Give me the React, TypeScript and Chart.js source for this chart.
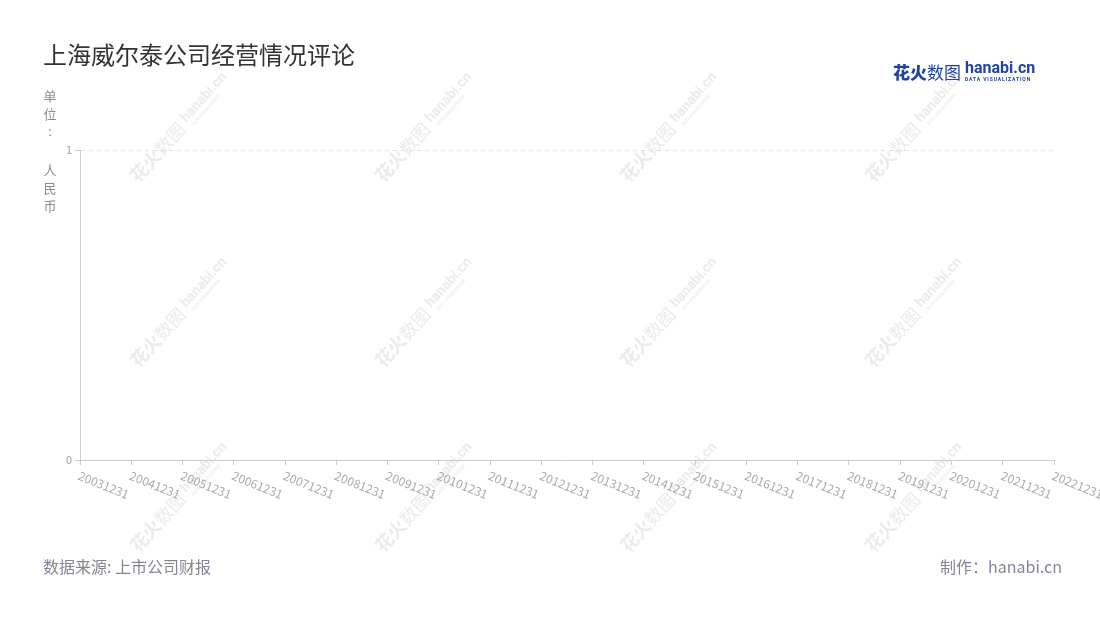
import React, { useEffect, useRef } from "react";
import { Chart, registerables } from "chart.js";

Chart.register(...registerables);

const title = "上海威尔泰公司经营情况评论";
const unitChars = ["单", "位", ":", "人", "民", "币"];
const categories = [
  "20031231", "20041231", "20051231", "20061231", "20071231",
  "20081231", "20091231", "20101231", "20111231", "20121231",
  "20131231", "20141231", "20151231", "20161231", "20171231",
  "20181231", "20191231", "20201231", "20211231", "20221231",
];
const seriesValues: (number | null)[] = [
  null, null, null, null, null, null, null, null, null, null,
  null, null, null, null, null, null, null, null, null, null,
];
const yTicks = [0, 1];
const sourceText = "数据来源: 上市公司财报";
const makerText = "制作：hanabi.cn";

const FONT = '"Noto Sans CJK SC", "Noto Sans", sans-serif';

const watermarkPlugin = {
  id: "watermark",
  beforeDraw(chart: any) {
    const ctx = chart.ctx as CanvasRenderingContext2D;
    const xs = [183, 428, 673, 918];
    const ys = [124, 309, 494];
    ctx.save();
    for (const cx of xs) {
      for (const cy of ys) {
        ctx.save();
        ctx.translate(cx, cy);
        ctx.rotate((-48 * Math.PI) / 180);
        ctx.fillStyle = "#ebebeb";
        ctx.textBaseline = "middle";
        ctx.textAlign = "left";
        ctx.font = `bold 18px ${FONT}`;
        ctx.fillText("花火", -74, 0);
        ctx.font = `18px ${FONT}`;
        ctx.fillText("数图", -38, 0);
        ctx.font = `bold 14px Roboto, ${FONT}`;
        ctx.fillText("hanabi.cn", 3, -2);
        ctx.font = `bold 4px Roboto, ${FONT}`;
        ctx.fillText("DATA VISUALIZATION", 6, 8);
        ctx.restore();
      }
    }
    ctx.restore();
  },
};

const xLabelPlugin = {
  id: "xlabels",
  afterDraw(chart: any) {
    const ctx = chart.ctx as CanvasRenderingContext2D;
    const sx = chart.scales.x;
    const labels = chart.data.labels as string[];
    const y = chart.chartArea.bottom + 15;
    ctx.save();
    ctx.fillStyle = "#ababab";
    ctx.font = `12px ${FONT}`;
    ctx.textAlign = "left";
    ctx.textBaseline = "middle";
    labels.forEach((lab, i) => {
      const x = sx.getPixelForValue(i);
      ctx.save();
      ctx.translate(x - 1, y);
      ctx.rotate((22 * Math.PI) / 180);
      ctx.fillText(lab, 0, 0);
      ctx.restore();
    });
    ctx.restore();
  },
};

function ChartView() {
  const ref = useRef<HTMLCanvasElement | null>(null);
  useEffect(() => {
    if (!ref.current) return;
    const chart = new Chart(ref.current, {
      type: "line",
      data: {
        labels: categories,
        datasets: [
          {
            label: "",
            data: seriesValues,
            borderColor: "#5470c6",
            backgroundColor: "#5470c6",
          },
        ],
      },
      options: {
        responsive: false,
        animation: false,
        devicePixelRatio: 1,
        layout: { padding: { left: 0, top: 150, right: 46, bottom: 100 } },
        plugins: {
          legend: { display: false },
          tooltip: { enabled: false },
        },
        scales: {
          x: {
            type: "category",
            offset: false,
            ticks: { display: false },
            grid: {
              drawOnChartArea: false,
              drawTicks: true,
              tickLength: 5,
              tickColor: "#cccccc",
              color: "#cccccc",
            },
            border: { display: true, color: "#cccccc", width: 1 },
            afterFit: (s: any) => {
              s.height = 60;
            },
          },
          y: {
            type: "linear",
            min: yTicks[0],
            max: yTicks[yTicks.length - 1],
            afterBuildTicks: (s: any) => {
              s.ticks = yTicks.map((v) => ({ value: v }));
            },
            ticks: {
              color: "#a0a0a0",
              font: { size: 11, family: FONT },
              padding: 3,
            },
            grid: {
              color: (c: any) => (c.tick && c.tick.value === 0 ? "rgba(0,0,0,0)" : "#e0e0e0"),
              tickColor: "#cccccc",
              tickLength: 5,
              tickBorderDash: [],
            },
            border: { display: true, color: "#cccccc", width: 1, dash: [4, 4] },
            afterFit: (s: any) => {
              s.width = 80;
            },
          },
        },
      },
      plugins: [watermarkPlugin, xLabelPlugin],
    } as any);
    return () => chart.destroy();
  }, []);
  return (
    <canvas
      ref={ref}
      width={1100}
      height={620}
      style={{ position: "absolute", left: 0, top: 0, width: 1100, height: 620 }}
    />
  );
}

export default function App() {
  const unitY = [96, 114, 131, 170, 188, 206];
  return (
    <div
      style={{
        position: "absolute",
        left: 0,
        top: 0,
        width: 1100,
        height: 620,
        background: "#ffffff",
        overflow: "hidden",
        fontFamily: FONT,
      }}
    >
      <ChartView />
      <div
        style={{
          position: "absolute",
          left: 43,
          top: 38,
          fontSize: 24,
          color: "#333333",
          lineHeight: "32px",
          whiteSpace: "nowrap",
        }}
      >
        {title}
      </div>
      {unitChars.map((c, i) => (
        <div
          key={i}
          style={{
            position: "absolute",
            left: 43,
            top: unitY[i] - 9,
            width: 14,
            textAlign: "center",
            fontSize: 13,
            lineHeight: "18px",
            color: "#8c8c8c",
          }}
        >
          {c}
        </div>
      ))}
      <div
        style={{
          position: "absolute",
          left: 893,
          top: 58,
          whiteSpace: "nowrap",
          color: "#1f43a3",
          display: "flex",
          alignItems: "center",
        }}
      >
        <span style={{ fontSize: 17, fontWeight: 900, lineHeight: "28px" }}>花火</span>
        <span style={{ fontSize: 17, fontWeight: 400, lineHeight: "28px" }}>数图</span>
        <span style={{ display: "inline-block", marginLeft: 4, position: "relative", top: -1 }}>
          <span style={{ display: "block", fontSize: 16, fontWeight: 700, lineHeight: "16px", fontFamily: "Roboto, sans-serif" }}>
            hanabi.cn
          </span>
          <span style={{ display: "block", fontSize: 5, fontWeight: 700, lineHeight: "6px", letterSpacing: 0.9, fontFamily: "Roboto, sans-serif" }}>
            DATA VISUALIZATION
          </span>
        </span>
      </div>
      <div
        style={{
          position: "absolute",
          left: 43,
          top: 555,
          fontSize: 16,
          lineHeight: "22px",
          color: "#85859a",
          whiteSpace: "nowrap",
        }}
      >
        {sourceText}
      </div>
      <div
        style={{
          position: "absolute",
          right: 1100 - 1062,
          top: 555,
          fontSize: 16,
          lineHeight: "22px",
          color: "#85859a",
          whiteSpace: "nowrap",
        }}
      >
        {makerText}
      </div>
    </div>
  );
}
